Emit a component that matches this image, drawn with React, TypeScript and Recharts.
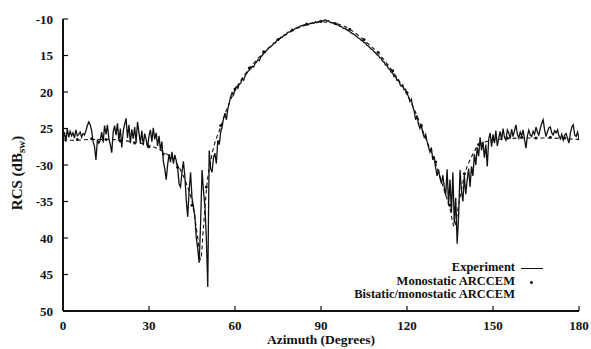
import React from 'react';
import { ComposedChart, Line, XAxis, YAxis, Legend } from 'recharts';

// Experiment: sampled every 0.5 degree from 0 to 180
const EXP_STEP = 0.5;
const experimentValues = [
  -26.5, -25.5, -26.8, -25.0, -26.2, -25.4, -26.0, -25.6, -26.3, -25.2,
  -26.0, -25.8, -25.5, -26.2, -25.7, -25.9, -25.3, -24.6, -24.1, -24.5,
  -25.3, -26.8, -27.5, -29.3, -26.5, -27.0, -26.6, -25.5, -26.9, -24.6,
  -25.8, -24.5, -26.4, -27.2, -28.3, -25.5, -24.6, -25.9, -24.3, -26.7,
  -25.0, -27.6, -25.4, -24.4, -23.6, -26.3, -24.5, -27.0, -25.1, -26.4,
  -24.8, -26.9, -24.1, -25.6, -27.0, -25.3, -27.3, -25.7, -26.5, -27.6,
  -26.0, -25.2, -26.8, -24.9, -26.5, -25.6, -27.4, -26.0, -28.0, -26.8,
  -29.5, -30.5, -32.0, -30.0, -28.5, -29.6, -28.2, -29.8, -28.6, -29.4,
  -30.5, -32.6, -33.0, -31.0, -29.5, -31.5, -34.8, -37.1, -33.5, -31.0,
  -34.5, -35.7, -37.0, -40.0, -41.5, -43.4, -38.0, -30.7, -33.5, -35.7,
  -40.0, -46.7, -28.0, -30.5, -31.0, -29.0, -28.4, -29.8, -26.6, -27.2,
  -25.5, -24.8, -23.6, -22.9, -23.8, -22.3, -21.5, -20.6, -20.1, -20.4,
  -19.6, -19.3, -19.5, -18.9, -18.8, -18.2, -18.4, -17.8, -17.5, -17.2,
  -17.0, -16.8, -16.5, -16.6, -16.1, -15.9, -15.6, -15.7, -15.2, -15.0,
  -14.7, -14.6, -14.3, -14.1, -13.9, -13.8, -13.6, -13.3, -13.3, -13.0,
  -12.8, -12.7, -12.5, -12.5, -12.2, -12.2, -12.0, -11.8, -11.8, -11.6,
  -11.5, -11.5, -11.3, -11.2, -11.1, -11.1, -10.9, -10.9, -10.8, -10.8,
  -10.7, -10.8, -10.6, -10.6, -10.5, -10.6, -10.4, -10.5, -10.4, -10.3,
  -10.4, -10.3, -10.2, -10.1, -10.3, -10.2, -10.4, -10.5, -10.5, -10.6,
  -10.7, -10.8, -10.8, -11.0, -11.0, -11.2, -11.3, -11.3, -11.5, -11.6,
  -11.7, -11.9, -12.0, -12.1, -12.3, -12.4, -12.6, -12.7, -12.9, -13.0,
  -13.2, -13.3, -13.6, -13.7, -13.9, -14.1, -14.2, -14.5, -14.6, -14.9,
  -15.0, -15.3, -15.4, -15.8, -15.9, -16.3, -16.3, -16.8, -16.9, -17.3,
  -17.4, -17.9, -17.8, -18.4, -18.3, -18.9, -19.2, -19.0, -19.7, -19.6,
  -20.2, -20.6, -21.3, -21.0, -22.0, -22.6, -23.8, -23.2, -24.4, -25.0,
  -24.6, -25.6, -26.2, -25.8, -26.8, -27.5, -28.2, -27.6, -29.3, -28.8,
  -30.4, -31.5, -30.6, -31.8, -32.5, -31.4, -33.0, -34.2, -30.6, -35.5,
  -32.0, -36.5, -31.0, -38.0, -34.5, -40.8, -37.0, -30.7, -33.5, -35.0,
  -31.5, -34.0, -32.0, -30.5, -33.0, -30.2, -31.5, -28.5, -30.0, -27.6,
  -28.8, -26.2, -28.0, -26.8, -29.0, -27.2, -30.2, -26.5, -25.6, -27.5,
  -25.8, -27.0, -25.3, -27.4, -26.3, -25.4, -26.6, -25.0, -26.2, -26.6,
  -25.2, -25.6, -26.4, -25.1, -26.1, -25.3, -24.5, -25.8, -26.3, -25.5,
  -26.0, -25.2, -26.5, -27.7, -26.0, -25.2, -25.9, -26.1, -25.4, -25.8,
  -24.8, -25.5, -25.9, -25.0, -24.3, -23.8, -25.2, -26.1, -25.4, -24.9,
  -24.8, -25.6, -25.9, -25.3, -25.6, -25.2, -26.0, -26.4, -25.8, -26.6,
  -25.9, -25.7, -26.4, -27.0, -25.6, -24.8, -24.5, -25.9, -26.1, -25.5,
  -26.3,
];

const bistaticAngles = [
  0, 5, 10, 15, 20, 25, 30, 35, 40, 43, 45, 47, 48, 49, 50, 52, 55, 58, 60,
  65, 70, 75, 80, 85, 90, 95, 100, 105, 110, 115, 120, 123, 125, 128, 130,
  133, 135, 136.5, 138, 140, 143, 145, 150, 155, 160, 165, 170, 175, 180,
];
const bistaticValues = [
  -26.6, -26.6, -26.5, -26.5, -26.6, -26.9, -27.3, -28.2, -30.0, -32.5, -35.0,
  -40.0, -43.0, -38.5, -33.5, -28.5, -24.8, -21.5, -19.8, -16.8, -14.6, -12.9,
  -11.6, -10.8, -10.4, -10.6, -11.4, -12.9, -14.7, -17.2, -20.3, -22.8, -24.8,
  -27.8, -29.8, -33.5, -36.0, -38.5, -35.5, -31.5, -28.5, -27.3, -26.6, -26.4,
  -26.3, -26.3, -26.3, -26.4, -26.5,
];

const monostaticAngles = [
  0, 5, 10, 15, 20, 25, 30, 35, 40, 45, 50, 55, 60, 65, 70, 75, 80, 85, 90,
  95, 100, 105, 110, 115, 120, 125, 130, 135, 140, 145, 150, 155, 160, 165,
  170, 175, 180,
];
const monostaticValues = [
  -26.4, -26.5, -26.4, -26.5, -26.7, -27.0, -27.5, -28.5, -30.3, -35.5, -33.0,
  -24.6, -19.6, -16.7, -14.5, -12.8, -11.5, -10.7, -10.3, -10.6, -11.4, -12.8,
  -14.6, -17.1, -20.1, -24.6, -29.6, -35.5, -31.2, -27.2, -26.5, -26.3, -26.2,
  -26.3, -26.2, -26.3, -26.4,
];

const xTicks = [0, 30, 60, 90, 120, 150, 180];
const xTickLabels = ['0', '30', '60', '90', '120', '150', '180'];
const yTicks = [-10, -15, -20, -25, -30, -35, -40, -45, -50];
const yTickLabels = ['-10', '15', '20', '25', '-30', '-35', '40', '45', '50'];

const legendItems = ['Experiment', 'Monostatic ARCCEM', 'Bistatic/monostatic ARCCEM'];

const experimentData = experimentValues.map((v, i) => ({ x: i * EXP_STEP, y: v }));
const bistaticData = bistaticAngles.map((a, i) => ({ x: a, y: bistaticValues[i] }));
const monostaticData = monostaticAngles.map((a, i) => ({ x: a, y: monostaticValues[i] }));

const FONT = "'Liberation Serif', 'DejaVu Serif', serif";
const INK = '#111';

const labelFor = (ticks: number[], labels: string[], v: number) => {
  const i = ticks.indexOf(v);
  return i >= 0 ? labels[i] : String(v);
};

const BottomTick = (props: any) => {
  const { x, y, payload } = props;
  return (
    <g>
      <line x1={x} y1={y} x2={x} y2={y - 5} stroke={INK} strokeWidth={1.2} />
      <text x={x} y={y + 19} textAnchor="middle" fontFamily={FONT} fontWeight="bold" fontSize={13} fill={INK}>
        {labelFor(xTicks, xTickLabels, payload.value)}
      </text>
    </g>
  );
};

const TopTick = (props: any) => {
  const { x, y } = props;
  return <line x1={x} y1={y} x2={x} y2={y + 5} stroke={INK} strokeWidth={1.2} />;
};

const LeftTick = (props: any) => {
  const { x, y, payload } = props;
  return (
    <g>
      <line x1={x} y1={y} x2={x + 5} y2={y} stroke={INK} strokeWidth={1.2} />
      <text x={x - 10} y={y + 4.5} textAnchor="end" fontFamily={FONT} fontWeight="bold" fontSize={13} fill={INK}>
        {labelFor(yTicks, yTickLabels, payload.value)}
      </text>
    </g>
  );
};

const RightTick = (props: any) => {
  const { x, y } = props;
  return <line x1={x} y1={y} x2={x - 5} y2={y} stroke={INK} strokeWidth={1.2} />;
};

const XTitle = (props: any) => {
  const vb = props.viewBox || { x: 63, y: 311, width: 516, height: 38 };
  return (
    <text x={vb.x + vb.width / 2} y={vb.y + 33} textAnchor="middle" fontFamily={FONT} fontWeight="bold" fontSize={13.5} fill={INK}>
      Azimuth (Degrees)
    </text>
  );
};

const YTitle = (props: any) => {
  const vb = props.viewBox || { x: 0, y: 19, width: 63, height: 292 };
  const cx = 22;
  const cy = vb.y + vb.height / 2 + 8;
  return (
    <text x={cx} y={cy} transform={`rotate(-90 ${cx} ${cy})`} textAnchor="middle" fontFamily={FONT} fontWeight="bold" fontSize={15} fill={INK}>
      RCS (dB
      <tspan fontSize={11} dy={3}>sw</tspan>
      <tspan dy={-3}>)</tspan>
    </text>
  );
};

const ROW_H = 13.5;

const LegendBox = () => (
  <div style={{ fontFamily: FONT, fontWeight: 'bold', fontSize: 12.5, color: INK, lineHeight: `${ROW_H}px` }}>
    {legendItems.map((name, i) => (
      <div key={name} style={{ display: 'flex', alignItems: 'center', height: ROW_H }}>
        <div style={{ width: 215, textAlign: 'right', whiteSpace: 'nowrap' }}>{name}</div>
        <div style={{ width: 36, position: 'relative', height: ROW_H }}>
          {i === 0 && (
            <div style={{ position: 'absolute', left: 6, top: 7, width: 22, height: 1.2, background: INK }} />
          )}
          {i === 1 && (
            <div style={{ position: 'absolute', left: 15, top: 6, width: 3, height: 3, borderRadius: 2, background: INK }} />
          )}
        </div>
      </div>
    ))}
  </div>
);

export default function App() {
  return (
    <div style={{ position: 'absolute', left: 0, top: 0, width: 591, height: 349, background: '#fff' }}>
      <ComposedChart width={591} height={349} margin={{ top: 19, right: 12, bottom: 0, left: 0 }}>
        <XAxis
          xAxisId="b"
          type="number"
          dataKey="x"
          domain={[0, 180]}
          ticks={xTicks}
          height={38}
          tickSize={0}
          tickMargin={0}
          tickLine={false}
          tick={<BottomTick />}
          axisLine={{ stroke: INK, strokeWidth: 2 }}
          allowDataOverflow
          label={XTitle}
        />
        <XAxis
          xAxisId="t"
          orientation="top"
          type="number"
          dataKey="x"
          domain={[0, 180]}
          ticks={xTicks}
          height={0}
          tickSize={0}
          tickMargin={0}
          tickLine={false}
          tick={<TopTick />}
          axisLine={{ stroke: INK, strokeWidth: 2 }}
          allowDataOverflow
        />
        <YAxis
          yAxisId="l"
          type="number"
          domain={[-50, -10]}
          ticks={yTicks}
          width={63}
          tickSize={0}
          tickMargin={0}
          tickLine={false}
          tick={<LeftTick />}
          axisLine={{ stroke: INK, strokeWidth: 2 }}
          allowDataOverflow
          label={YTitle}
        />
        <YAxis
          yAxisId="r"
          orientation="right"
          type="number"
          domain={[-50, -10]}
          ticks={yTicks}
          width={0}
          tickSize={0}
          tickMargin={0}
          tickLine={false}
          tick={<RightTick />}
          axisLine={{ stroke: INK, strokeWidth: 2 }}
          allowDataOverflow
        />
        <Legend
          layout="horizontal"
          verticalAlign="middle"
          align="center"
          wrapperStyle={{ position: 'absolute', left: 300, top: 261, width: 260, height: 42 }}
          content={() => <LegendBox />}
        />
        <Line
          xAxisId="b"
          yAxisId="l"
          data={bistaticData}
          dataKey="y"
          type="monotone"
          stroke={INK}
          strokeWidth={1.1}
          strokeDasharray="4 3"
          dot={false}
          isAnimationActive={false}
          name="Bistatic/monostatic ARCCEM"
        />
        <Line
          xAxisId="b"
          yAxisId="l"
          data={experimentData}
          dataKey="y"
          type="linear"
          stroke={INK}
          strokeWidth={1.3}
          dot={false}
          isAnimationActive={false}
          name="Experiment"
        />
        <Line
          xAxisId="b"
          yAxisId="l"
          data={monostaticData}
          dataKey="y"
          stroke="none"
          dot={{ r: 1.5, fill: INK, stroke: 'none' }}
          isAnimationActive={false}
          name="Monostatic ARCCEM"
        />
      </ComposedChart>
    </div>
  );
}
